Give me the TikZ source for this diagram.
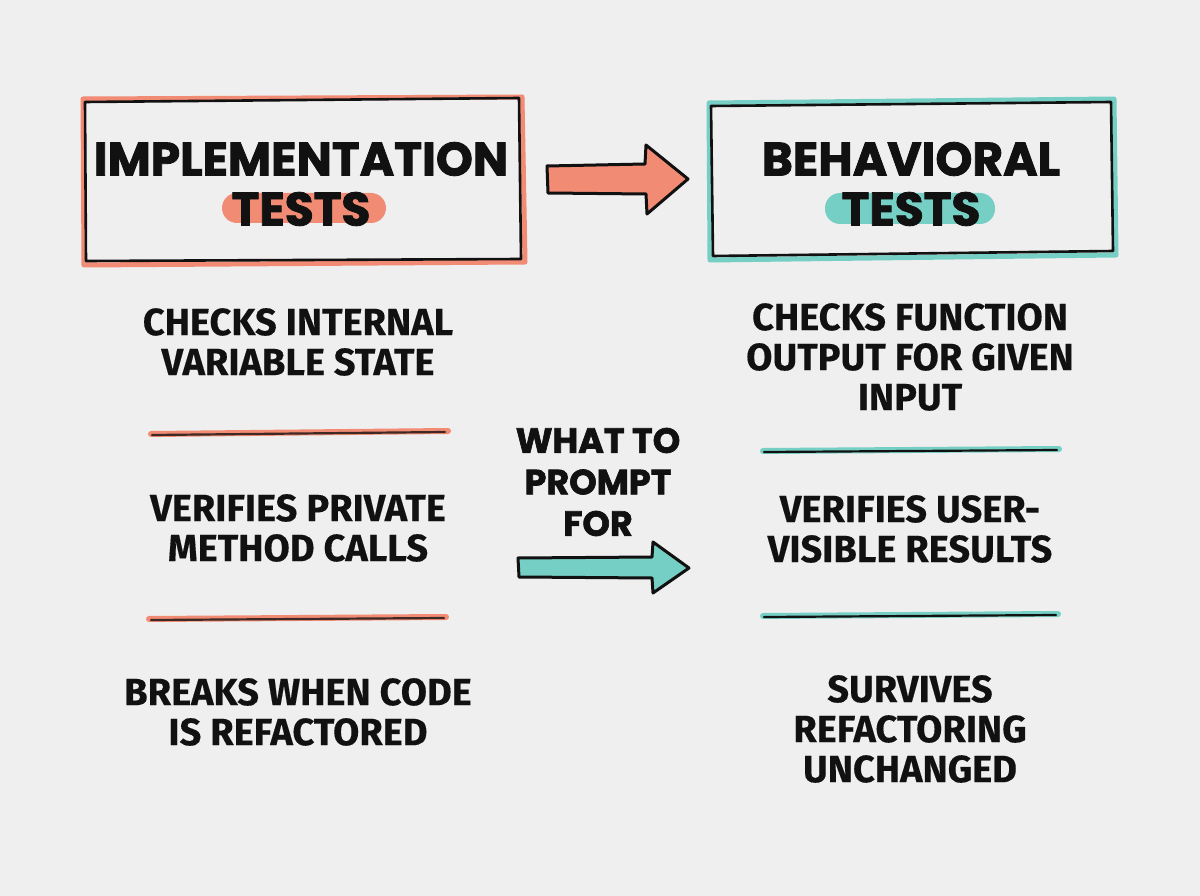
\documentclass[tikz,border=0pt]{standalone}
\usepackage{fontspec}
\setmainfont{Fira Sans}
\newfontfamily\heavyfont{Poppins}[BoldFeatures={FakeBold=1.8}]
\newfontfamily\bodyfont{Fira Sans}[BoldFeatures={FakeBold=0.3}]
\definecolor{bg}{HTML}{EFEFEF}
\definecolor{coral}{HTML}{F28B74}
\definecolor{teal}{HTML}{76CFC4}
\definecolor{ink}{HTML}{111111}
\tikzset{
  title/.style={font=\heavyfont\bfseries\fontsize{47}{50}\selectfont, text=ink, inner sep=0pt},
  body/.style={font=\bodyfont\bfseries\fontsize{38}{40}\selectfont, text=ink, align=center, inner sep=0pt},
  mid/.style={font=\heavyfont\bfseries\fontsize{35}{41.5}\selectfont, text=ink, align=center, inner sep=0pt},
  arrowline/.style={draw=ink, line width=3pt, line join=round},
}
\begin{document}
\begin{tikzpicture}[x=1pt,y=-1pt]
\fill[bg] (0,0) rectangle (1200,896);
\useasboundingbox (0,0) rectangle (1200,896);
% left box
\draw[coral, line width=5pt, line join=round] (83,99) -- (522,97) -- (525,262) -- (84,265) -- cycle;
\draw[ink, line width=2.6pt, line join=round] (85,102) -- (519,98) -- (521,259) -- (86,261) -- cycle;
\fill[coral, rounded corners=15pt] (222,193) rectangle (386,223);
\node[title] (limpl) at (301,159) {IMPLEMENTATION};
\node[title] (ltests) at (301,209) {TESTS};
% right box
\draw[teal, line width=5pt, line join=round] (709,103) -- (1114,99) -- (1116,255) -- (710,260) -- cycle;
\draw[ink, line width=2.6pt, line join=round] (711,106) -- (1111,102) -- (1113,251) -- (713,256) -- cycle;
\fill[teal, rounded corners=15pt] (825,193) rectangle (995,224);
\node[title] (rbeh) at (911,159) {BEHAVIORAL};
\node[title] (rtests) at (911,209) {TESTS};
% top arrow
\filldraw[arrowline, fill=coral] (547,166) -- (645,164) -- (646,145) -- (688,179) -- (647,214) -- (646,194) -- (548,193) -- cycle;
% left column
\node[body] (l1) at (298,342) {CHECKS INTERNAL\\VARIABLE STATE};
\draw[coral, line width=6pt, line cap=round] (151,434) -- (448,431);
\draw[ink!80!coral, line width=2.2pt, line cap=round] (152,435) -- (445,432);
\node[body] (l2) at (298,528) {VERIFIES PRIVATE\\METHOD CALLS};
\draw[coral, line width=6pt, line cap=round] (149,619) -- (446,617);
\draw[ink!80!coral, line width=2.2pt, line cap=round] (151,620) -- (444,618);
\node[body] (l3) at (298,712) {BREAKS WHEN CODE\\IS REFACTORED};
% right column
\node[body] (r1) at (910,357) {CHECKS FUNCTION\\OUTPUT FOR GIVEN\\INPUT};
\draw[teal, line width=6pt, line cap=round] (763,451) -- (1059,449);
\draw[ink, line width=2.2pt, line cap=round] (764,452) -- (1057,450);
\node[body] (r2) at (910,529) {VERIFIES USER-\\VISIBLE RESULTS};
\draw[teal, line width=6pt, line cap=round] (763,616) -- (1058,614);
\draw[ink, line width=2.2pt, line cap=round] (764,617) -- (1056,615);
\node[body] (r3) at (910,729) {SURVIVES\\REFACTORING\\UNCHANGED};
% middle
\node[mid] (mtext) at (598,482) {WHAT TO\\PROMPT\\FOR};
\filldraw[arrowline, fill=teal] (518,558) -- (652,557) -- (653,542) -- (689,568) -- (653,593) -- (652,578) -- (519,577) -- cycle;
\end{tikzpicture}
\end{document}
